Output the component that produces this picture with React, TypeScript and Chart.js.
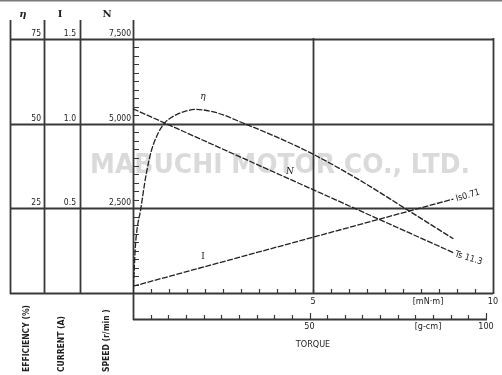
import React, { useEffect, useRef } from "react";
import { Chart, registerables } from "chart.js";
Chart.register(...registerables);

// Torque [mN·m] where efficiency was read
const torqueEta = [0, 0.03, 0.064, 0.12, 0.21, 0.28, 0.37, 0.51, 0.69, 0.86, 1.06, 1.4, 1.75, 2.3, 3.1, 4, 5, 6.3, 7.6, 8.9];
const efficiency = [0, 6, 13.5, 19.4, 24.4, 29.4, 35.3, 42, 47, 50, 51.8, 53.5, 54.2, 53.3, 50, 46, 41, 33.3, 24.7, 16];
// Straight characteristics (end points)
const torqueLine = [0, 8.9];
const speed = [5440, 1190];
const current = [0.04, 0.555];

const etaTicks = [25, 50, 75];
const etaTickLabels = ["25", "50", "75"];
const currentTickLabels = ["0.5", "1.0", "1.5"];
const speedTickLabels = ["2,500", "5,000", "7,500"];
const torqueMajor = [5, 10];
const torqueMajorLabels = ["5", "10"];
const gcmMajor = [50, 100];
const gcmMajorLabels = ["50", "100"];
const GCM_TO_MNM = 0.0980665;

const INK = "#222222";
const GRID = "#383838";
const COND = "'DejaVu Sans Condensed', 'Liberation Sans Narrow', sans-serif";

const decor = {
  id: "decor",
  beforeDatasetsDraw(chart: any) {
    const ctx = chart.ctx as CanvasRenderingContext2D;
    const xs = chart.scales.x;
    const ys = chart.scales.yEta;
    const left = xs.getPixelForValue(0);
    const right = xs.getPixelForValue(10);
    const bottom = ys.getPixelForValue(0);
    const top = ys.getPixelForValue(75);
    const colX = [10, 44, 80];
    ctx.save();
    // top gray rule
    ctx.fillStyle = "#7a7a7a";
    ctx.fillRect(0, 0, 502, 1.5);

    // watermark
    ctx.save();
    ctx.fillStyle = "#dadada";
    ctx.font = "900 26px 'DejaVu Sans', sans-serif";
    ctx.textBaseline = "middle";
    const wm = "MABUCHI MOTOR CO., LTD.";
    const w = ctx.measureText(wm).width;
    ctx.translate(90, 166);
    ctx.scale(380 / w, 1);
    ctx.fillText(wm, 0, 0);
    ctx.restore();

    ctx.strokeStyle = GRID;
    ctx.lineWidth = 1.8;
    ctx.beginPath();
    // horizontal grid lines incl. left columns
    [0, ...etaTicks].forEach((v) => {
      const y = Math.round(ys.getPixelForValue(v)) + 0.5;
      ctx.moveTo(colX[0], y);
      ctx.lineTo(right, y);
    });
    // left column verticals
    colX.forEach((x) => {
      ctx.moveTo(x + 0.5, 20);
      ctx.lineTo(x + 0.5, bottom + 1);
    });
    // main left axis
    ctx.moveTo(left + 0.5, 20);
    ctx.lineTo(left + 0.5, 320);
    // vertical grid at 5 and 10
    torqueMajor.forEach((v) => {
      const x = Math.round(xs.getPixelForValue(v)) + 0.5;
      ctx.moveTo(x, top - 1);
      ctx.lineTo(x, bottom + 1);
    });
    // g-cm axis line
    const gy = 319;
    ctx.moveTo(left, gy + 0.5);
    ctx.lineTo(xs.getPixelForValue(100 * GCM_TO_MNM) + 1, gy + 0.5);
    ctx.stroke();

    // small ticks
    ctx.lineWidth = 1.2;
    ctx.beginPath();
    for (let v = 2.5; v < 75; v += 2.5) {
      const y = Math.round(ys.getPixelForValue(v)) + 0.5;
      ctx.moveTo(left, y);
      ctx.lineTo(left + 6, y);
    }
    for (let t = 0.5; t < 10; t += 0.5) {
      const x = Math.round(xs.getPixelForValue(t)) + 0.5;
      ctx.moveTo(x, bottom);
      ctx.lineTo(x, bottom - 4);
    }
    for (let g = 5; g <= 100; g += 5) {
      const x = Math.round(xs.getPixelForValue(g * GCM_TO_MNM)) + 0.5;
      const len = g % 50 === 0 ? 6 : 4;
      ctx.moveTo(x, gy);
      ctx.lineTo(x, gy - len);
    }
    ctx.stroke();
    ctx.restore();
  },
  afterDatasetsDraw(chart: any) {
    const ctx = chart.ctx as CanvasRenderingContext2D;
    const xs = chart.scales.x;
    const ys = chart.scales.yEta;
    const bottom = ys.getPixelForValue(0);
    ctx.save();
    ctx.fillStyle = INK;

    // column headers
    ctx.textAlign = "center";
    ctx.textBaseline = "middle";
    ctx.font = "italic bold 10px 'DejaVu Serif', serif";
    ctx.fillText("η", 23, 14);
    ctx.font = "bold 10px 'DejaVu Serif', serif";
    ctx.fillText("I", 60, 14);
    ctx.fillText("N", 107, 14);

    // tick labels of the three columns
    ctx.font = `8.5px ${COND}`;
    ctx.textAlign = "right";
    ctx.textBaseline = "alphabetic";
    etaTicks.forEach((v, i) => {
      const y = Math.round(ys.getPixelForValue(v)) - 3;
      ctx.fillText(etaTickLabels[i], 41, y);
      ctx.fillText(currentTickLabels[i], 76, y);
      ctx.fillText(speedTickLabels[i], 131, y);
    });

    // torque labels
    ctx.textAlign = "center";
    ctx.textBaseline = "middle";
    ctx.font = `9px ${COND}`;
    torqueMajor.forEach((v, i) => {
      ctx.fillText(torqueMajorLabels[i], xs.getPixelForValue(v), bottom + 9);
    });
    ctx.fillText("[mN·m]", 428, bottom + 9);
    gcmMajor.forEach((v, i) => {
      ctx.fillText(gcmMajorLabels[i], xs.getPixelForValue(v * GCM_TO_MNM), 327);
    });
    ctx.fillText("[g-cm]", 428, 327);
    ctx.fillText("TORQUE", xs.getPixelForValue(5), 345);

    // vertical axis titles
    ctx.font = `bold 8.5px ${COND}`;
    ctx.textAlign = "left";
    [["EFFICIENCY (%)", 27], ["CURRENT (A)", 62], ["SPEED (r/min )", 107]].forEach(([t, x]) => {
      ctx.save();
      ctx.translate(x as number, 372);
      ctx.rotate(-Math.PI / 2);
      ctx.fillText(t as string, 0, 0);
      ctx.restore();
    });

    // curve annotations
    ctx.font = "italic 9px 'DejaVu Serif', serif";
    ctx.textAlign = "center";
    ctx.fillText("η", 203, 97);
    ctx.fillText("N", 290, 172);
    ctx.font = "9px 'DejaVu Serif', serif";
    ctx.fillText("I", 203, 257);
    ctx.font = `9px ${COND}`;
    ctx.textAlign = "left";
    ctx.save();
    ctx.translate(456, 199);
    ctx.rotate(-0.28);
    ctx.fillText("Is0.71", 0, 0);
    ctx.restore();
    ctx.save();
    ctx.translate(455, 254);
    ctx.rotate(0.3);
    ctx.fillText("Ts 11.3", 0, 0);
    ctx.restore();
    ctx.restore();
  },
};

export default function App() {
  const ref = useRef<HTMLCanvasElement>(null);
  useEffect(() => {
    const common = {
      borderColor: INK,
      borderWidth: 1.3,
      borderDash: [6, 1.5],
      pointRadius: 0,
      fill: false,
    };
    const chart = new Chart(ref.current!, {
      type: "line",
      data: {
        datasets: [
          {
            ...common,
            label: "η",
            yAxisID: "yEta",
            cubicInterpolationMode: "monotone",
            data: torqueEta.map((t, i) => ({ x: t, y: efficiency[i] })),
          },
          {
            ...common,
            label: "N",
            yAxisID: "yN",
            data: torqueLine.map((t, i) => ({ x: t, y: speed[i] })),
          },
          {
            ...common,
            label: "I",
            yAxisID: "yI",
            data: torqueLine.map((t, i) => ({ x: t, y: current[i] })),
          },
        ],
      } as any,
      options: {
        animation: false,
        responsive: true,
        maintainAspectRatio: false,
        layout: { padding: { left: 133, right: 9, top: 39, bottom: 82 } },
        plugins: { legend: { display: false }, tooltip: { enabled: false } },
        scales: {
          x: { type: "linear", min: 0, max: 10, display: false },
          yEta: { type: "linear", min: 0, max: 75, display: false },
          yI: { type: "linear", min: 0, max: 1.5, display: false },
          yN: { type: "linear", min: 0, max: 7500, display: false },
        },
      },
      plugins: [decor],
    });
    return () => chart.destroy();
  }, []);
  return (
    <div style={{ position: "absolute", left: 0, top: 0, width: 502, height: 375, background: "#fff" }}>
      <canvas ref={ref} />
    </div>
  );
}
